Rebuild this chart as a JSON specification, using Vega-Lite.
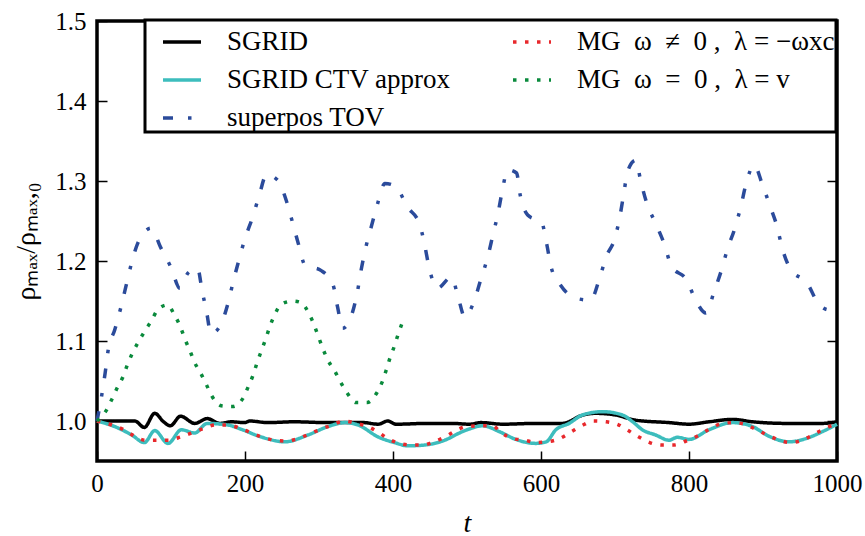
{
  "$schema": "https://vega.github.io/schema/vega-lite/v6.json",
  "width": 740,
  "height": 440,
  "autosize": {"type": "none"},
  "padding": {"left": 97, "top": 21, "right": 28, "bottom": 75},
  "background": "white",
  "config": {
    "view": {"stroke": "black", "strokeWidth": 3.5},
    "legend": {"strokeWidth": 3},
    "axis": {
      "labelFont": "Liberation Serif",
      "labelFontSize": 25,
      "labelColor": "black",
      "labelFlush": false,
      "tickColor": "black",
      "tickWidth": 1.5,
      "tickSize": -10,
      "domain": false,
      "grid": false,
      "titleFont": "Liberation Serif",
      "titleFontSize": 28,
      "titleColor": "black",
      "titleFontWeight": "normal"
    }
  },
  "data": {
    "values": [
      {"s": "SGRID", "t": 0, "v": 1.0}, {"s": "SGRID", "t": 20, "v": 1.0}, {"s": "SGRID", "t": 40, "v": 1.0}, {"s": "SGRID", "t": 51, "v": 1.0},
      {"s": "SGRID", "t": 64, "v": 0.992}, {"s": "SGRID", "t": 78, "v": 1.0096}, {"s": "SGRID", "t": 90, "v": 0.999}, {"s": "SGRID", "t": 99, "v": 0.994},
      {"s": "SGRID", "t": 113, "v": 1.006}, {"s": "SGRID", "t": 132, "v": 0.997}, {"s": "SGRID", "t": 149, "v": 1.003}, {"s": "SGRID", "t": 166, "v": 0.997},
      {"s": "SGRID", "t": 182, "v": 0.999}, {"s": "SGRID", "t": 200, "v": 0.998}, {"s": "SGRID", "t": 206, "v": 1.0}, {"s": "SGRID", "t": 231, "v": 0.998},
      {"s": "SGRID", "t": 266, "v": 0.999}, {"s": "SGRID", "t": 312, "v": 0.998}, {"s": "SGRID", "t": 339, "v": 0.998}, {"s": "SGRID", "t": 360, "v": 0.998},
      {"s": "SGRID", "t": 380, "v": 0.996}, {"s": "SGRID", "t": 393, "v": 1.0}, {"s": "SGRID", "t": 404, "v": 0.996}, {"s": "SGRID", "t": 447, "v": 0.997},
      {"s": "SGRID", "t": 480, "v": 0.997}, {"s": "SGRID", "t": 503, "v": 0.996}, {"s": "SGRID", "t": 519, "v": 0.998}, {"s": "SGRID", "t": 548, "v": 0.996},
      {"s": "SGRID", "t": 593, "v": 0.997}, {"s": "SGRID", "t": 629, "v": 0.997}, {"s": "SGRID", "t": 640, "v": 1.0}, {"s": "SGRID", "t": 652, "v": 1.006},
      {"s": "SGRID", "t": 674, "v": 1.0096}, {"s": "SGRID", "t": 701, "v": 1.0075}, {"s": "SGRID", "t": 728, "v": 1.001}, {"s": "SGRID", "t": 773, "v": 0.998},
      {"s": "SGRID", "t": 800, "v": 0.996}, {"s": "SGRID", "t": 827, "v": 0.999}, {"s": "SGRID", "t": 859, "v": 1.002}, {"s": "SGRID", "t": 886, "v": 0.999},
      {"s": "SGRID", "t": 931, "v": 0.997}, {"s": "SGRID", "t": 980, "v": 0.997}, {"s": "SGRID", "t": 994, "v": 0.998}, {"s": "SGRID", "t": 1000, "v": 0.999},

      {"s": "SGRID CTV approx", "t": 0, "v": 1.0}, {"s": "SGRID CTV approx", "t": 4, "v": 0.999}, {"s": "SGRID CTV approx", "t": 24, "v": 0.993},
      {"s": "SGRID CTV approx", "t": 47, "v": 0.9825}, {"s": "SGRID CTV approx", "t": 64, "v": 0.973}, {"s": "SGRID CTV approx", "t": 78, "v": 0.988},
      {"s": "SGRID CTV approx", "t": 96, "v": 0.972}, {"s": "SGRID CTV approx", "t": 114, "v": 0.989}, {"s": "SGRID CTV approx", "t": 132, "v": 0.985},
      {"s": "SGRID CTV approx", "t": 149, "v": 0.997}, {"s": "SGRID CTV approx", "t": 177, "v": 0.995}, {"s": "SGRID CTV approx", "t": 195, "v": 0.9896},
      {"s": "SGRID CTV approx", "t": 222, "v": 0.98}, {"s": "SGRID CTV approx", "t": 254, "v": 0.974}, {"s": "SGRID CTV approx", "t": 285, "v": 0.9825},
      {"s": "SGRID CTV approx", "t": 312, "v": 0.993}, {"s": "SGRID CTV approx", "t": 335, "v": 0.998}, {"s": "SGRID CTV approx", "t": 353, "v": 0.995},
      {"s": "SGRID CTV approx", "t": 380, "v": 0.98}, {"s": "SGRID CTV approx", "t": 402, "v": 0.973}, {"s": "SGRID CTV approx", "t": 420, "v": 0.969},
      {"s": "SGRID CTV approx", "t": 443, "v": 0.97}, {"s": "SGRID CTV approx", "t": 470, "v": 0.976}, {"s": "SGRID CTV approx", "t": 492, "v": 0.986},
      {"s": "SGRID CTV approx", "t": 503, "v": 0.99}, {"s": "SGRID CTV approx", "t": 521, "v": 0.994}, {"s": "SGRID CTV approx", "t": 544, "v": 0.9866},
      {"s": "SGRID CTV approx", "t": 566, "v": 0.977}, {"s": "SGRID CTV approx", "t": 593, "v": 0.972}, {"s": "SGRID CTV approx", "t": 607, "v": 0.974},
      {"s": "SGRID CTV approx", "t": 620, "v": 0.989}, {"s": "SGRID CTV approx", "t": 638, "v": 0.997}, {"s": "SGRID CTV approx", "t": 656, "v": 1.0075},
      {"s": "SGRID CTV approx", "t": 683, "v": 1.0117}, {"s": "SGRID CTV approx", "t": 710, "v": 1.0075}, {"s": "SGRID CTV approx", "t": 724, "v": 0.999},
      {"s": "SGRID CTV approx", "t": 737, "v": 0.989}, {"s": "SGRID CTV approx", "t": 755, "v": 0.9825}, {"s": "SGRID CTV approx", "t": 773, "v": 0.976},
      {"s": "SGRID CTV approx", "t": 784, "v": 0.9796}, {"s": "SGRID CTV approx", "t": 800, "v": 0.977}, {"s": "SGRID CTV approx", "t": 827, "v": 0.989},
      {"s": "SGRID CTV approx", "t": 859, "v": 0.998}, {"s": "SGRID CTV approx", "t": 886, "v": 0.993}, {"s": "SGRID CTV approx", "t": 908, "v": 0.981},
      {"s": "SGRID CTV approx", "t": 935, "v": 0.974}, {"s": "SGRID CTV approx", "t": 958, "v": 0.978}, {"s": "SGRID CTV approx", "t": 980, "v": 0.9866},
      {"s": "SGRID CTV approx", "t": 998, "v": 0.995}, {"s": "SGRID CTV approx", "t": 1000, "v": 0.996},

      {"s": "superpos TOV", "t": 0, "v": 1.0}, {"s": "superpos TOV", "t": 6, "v": 1.03}, {"s": "superpos TOV", "t": 11, "v": 1.06}, {"s": "superpos TOV", "t": 15, "v": 1.088},
      {"s": "superpos TOV", "t": 24, "v": 1.114}, {"s": "superpos TOV", "t": 32, "v": 1.141}, {"s": "superpos TOV", "t": 39, "v": 1.168}, {"s": "superpos TOV", "t": 46, "v": 1.195},
      {"s": "superpos TOV", "t": 55, "v": 1.222}, {"s": "superpos TOV", "t": 73, "v": 1.241}, {"s": "superpos TOV", "t": 86, "v": 1.217}, {"s": "superpos TOV", "t": 100, "v": 1.192},
      {"s": "superpos TOV", "t": 112, "v": 1.166}, {"s": "superpos TOV", "t": 123, "v": 1.185}, {"s": "superpos TOV", "t": 136, "v": 1.191}, {"s": "superpos TOV", "t": 142, "v": 1.163},
      {"s": "superpos TOV", "t": 148, "v": 1.137}, {"s": "superpos TOV", "t": 154, "v": 1.109}, {"s": "superpos TOV", "t": 168, "v": 1.122}, {"s": "superpos TOV", "t": 177, "v": 1.147},
      {"s": "superpos TOV", "t": 184, "v": 1.174}, {"s": "superpos TOV", "t": 192, "v": 1.202}, {"s": "superpos TOV", "t": 200, "v": 1.228}, {"s": "superpos TOV", "t": 210, "v": 1.254},
      {"s": "superpos TOV", "t": 219, "v": 1.281}, {"s": "superpos TOV", "t": 229, "v": 1.308}, {"s": "superpos TOV", "t": 244, "v": 1.301}, {"s": "superpos TOV", "t": 256, "v": 1.275},
      {"s": "superpos TOV", "t": 264, "v": 1.249}, {"s": "superpos TOV", "t": 272, "v": 1.222}, {"s": "superpos TOV", "t": 281, "v": 1.195}, {"s": "superpos TOV", "t": 303, "v": 1.188},
      {"s": "superpos TOV", "t": 319, "v": 1.17}, {"s": "superpos TOV", "t": 325, "v": 1.143}, {"s": "superpos TOV", "t": 332, "v": 1.116}, {"s": "superpos TOV", "t": 345, "v": 1.135},
      {"s": "superpos TOV", "t": 352, "v": 1.162}, {"s": "superpos TOV", "t": 357, "v": 1.189}, {"s": "superpos TOV", "t": 363, "v": 1.216}, {"s": "superpos TOV", "t": 371, "v": 1.244},
      {"s": "superpos TOV", "t": 379, "v": 1.271}, {"s": "superpos TOV", "t": 389, "v": 1.297}, {"s": "superpos TOV", "t": 404, "v": 1.293}, {"s": "superpos TOV", "t": 419, "v": 1.268},
      {"s": "superpos TOV", "t": 436, "v": 1.246}, {"s": "superpos TOV", "t": 443, "v": 1.219}, {"s": "superpos TOV", "t": 449, "v": 1.191}, {"s": "superpos TOV", "t": 460, "v": 1.166},
      {"s": "superpos TOV", "t": 479, "v": 1.18}, {"s": "superpos TOV", "t": 488, "v": 1.155}, {"s": "superpos TOV", "t": 497, "v": 1.13}, {"s": "superpos TOV", "t": 510, "v": 1.151},
      {"s": "superpos TOV", "t": 519, "v": 1.178}, {"s": "superpos TOV", "t": 528, "v": 1.205}, {"s": "superpos TOV", "t": 535, "v": 1.2325}, {"s": "superpos TOV", "t": 542, "v": 1.26},
      {"s": "superpos TOV", "t": 547.5, "v": 1.287}, {"s": "superpos TOV", "t": 555, "v": 1.314}, {"s": "superpos TOV", "t": 567, "v": 1.31}, {"s": "superpos TOV", "t": 572, "v": 1.282},
      {"s": "superpos TOV", "t": 582, "v": 1.2575}, {"s": "superpos TOV", "t": 601, "v": 1.248}, {"s": "superpos TOV", "t": 608, "v": 1.22}, {"s": "superpos TOV", "t": 613.5, "v": 1.193},
      {"s": "superpos TOV", "t": 627, "v": 1.169}, {"s": "superpos TOV", "t": 649, "v": 1.153}, {"s": "superpos TOV", "t": 667, "v": 1.151}, {"s": "superpos TOV", "t": 679, "v": 1.178},
      {"s": "superpos TOV", "t": 688, "v": 1.205}, {"s": "superpos TOV", "t": 700, "v": 1.229}, {"s": "superpos TOV", "t": 707, "v": 1.2575}, {"s": "superpos TOV", "t": 712, "v": 1.285},
      {"s": "superpos TOV", "t": 717, "v": 1.312}, {"s": "superpos TOV", "t": 728, "v": 1.326}, {"s": "superpos TOV", "t": 735, "v": 1.299}, {"s": "superpos TOV", "t": 743, "v": 1.272},
      {"s": "superpos TOV", "t": 755, "v": 1.247}, {"s": "superpos TOV", "t": 767, "v": 1.22}, {"s": "superpos TOV", "t": 776, "v": 1.194}, {"s": "superpos TOV", "t": 797, "v": 1.176},
      {"s": "superpos TOV", "t": 809, "v": 1.151}, {"s": "superpos TOV", "t": 823, "v": 1.135}, {"s": "superpos TOV", "t": 834, "v": 1.162}, {"s": "superpos TOV", "t": 844, "v": 1.189},
      {"s": "superpos TOV", "t": 852, "v": 1.215}, {"s": "superpos TOV", "t": 862, "v": 1.241}, {"s": "superpos TOV", "t": 870, "v": 1.268}, {"s": "superpos TOV", "t": 877, "v": 1.296},
      {"s": "superpos TOV", "t": 888, "v": 1.32}, {"s": "superpos TOV", "t": 899, "v": 1.296}, {"s": "superpos TOV", "t": 909, "v": 1.27}, {"s": "superpos TOV", "t": 919, "v": 1.243},
      {"s": "superpos TOV", "t": 926, "v": 1.216}, {"s": "superpos TOV", "t": 937, "v": 1.19}, {"s": "superpos TOV", "t": 960, "v": 1.172}, {"s": "superpos TOV", "t": 974, "v": 1.148},
      {"s": "superpos TOV", "t": 989, "v": 1.139}, {"s": "superpos TOV", "t": 1000, "v": 1.15},

      {"s": "MG\u2002ω\u2002≠\u20020 ,\u2002λ = −ωxc", "t": 0, "v": 1.0}, {"s": "MG\u2002ω\u2002≠\u20020 ,\u2002λ = −ωxc", "t": 20, "v": 0.995}, {"s": "MG\u2002ω\u2002≠\u20020 ,\u2002λ = −ωxc", "t": 35, "v": 0.9896},
      {"s": "MG\u2002ω\u2002≠\u20020 ,\u2002λ = −ωxc", "t": 47, "v": 0.983}, {"s": "MG\u2002ω\u2002≠\u20020 ,\u2002λ = −ωxc", "t": 65, "v": 0.976}, {"s": "MG\u2002ω\u2002≠\u20020 ,\u2002λ = −ωxc", "t": 80, "v": 0.976},
      {"s": "MG\u2002ω\u2002≠\u20020 ,\u2002λ = −ωxc", "t": 96, "v": 0.976}, {"s": "MG\u2002ω\u2002≠\u20020 ,\u2002λ = −ωxc", "t": 113, "v": 0.98}, {"s": "MG\u2002ω\u2002≠\u20020 ,\u2002λ = −ωxc", "t": 129, "v": 0.9854},
      {"s": "MG\u2002ω\u2002≠\u20020 ,\u2002λ = −ωxc", "t": 145, "v": 0.991}, {"s": "MG\u2002ω\u2002≠\u20020 ,\u2002λ = −ωxc", "t": 160, "v": 0.995}, {"s": "MG\u2002ω\u2002≠\u20020 ,\u2002λ = −ωxc", "t": 177, "v": 0.995},
      {"s": "MG\u2002ω\u2002≠\u20020 ,\u2002λ = −ωxc", "t": 193, "v": 0.991}, {"s": "MG\u2002ω\u2002≠\u20020 ,\u2002λ = −ωxc", "t": 209, "v": 0.985}, {"s": "MG\u2002ω\u2002≠\u20020 ,\u2002λ = −ωxc", "t": 224, "v": 0.9796},
      {"s": "MG\u2002ω\u2002≠\u20020 ,\u2002λ = −ωxc", "t": 240, "v": 0.976}, {"s": "MG\u2002ω\u2002≠\u20020 ,\u2002λ = −ωxc", "t": 254, "v": 0.975}, {"s": "MG\u2002ω\u2002≠\u20020 ,\u2002λ = −ωxc", "t": 272, "v": 0.978},
      {"s": "MG\u2002ω\u2002≠\u20020 ,\u2002λ = −ωxc", "t": 285, "v": 0.983}, {"s": "MG\u2002ω\u2002≠\u20020 ,\u2002λ = −ωxc", "t": 302, "v": 0.9896}, {"s": "MG\u2002ω\u2002≠\u20020 ,\u2002λ = −ωxc", "t": 318, "v": 0.995},
      {"s": "MG\u2002ω\u2002≠\u20020 ,\u2002λ = −ωxc", "t": 334, "v": 1.0}, {"s": "MG\u2002ω\u2002≠\u20020 ,\u2002λ = −ωxc", "t": 350, "v": 0.997}, {"s": "MG\u2002ω\u2002≠\u20020 ,\u2002λ = −ωxc", "t": 366, "v": 0.993},
      {"s": "MG\u2002ω\u2002≠\u20020 ,\u2002λ = −ωxc", "t": 381, "v": 0.9854}, {"s": "MG\u2002ω\u2002≠\u20020 ,\u2002λ = −ωxc", "t": 395, "v": 0.977}, {"s": "MG\u2002ω\u2002≠\u20020 ,\u2002λ = −ωxc", "t": 409, "v": 0.972},
      {"s": "MG\u2002ω\u2002≠\u20020 ,\u2002λ = −ωxc", "t": 424, "v": 0.97}, {"s": "MG\u2002ω\u2002≠\u20020 ,\u2002λ = −ωxc", "t": 440, "v": 0.97}, {"s": "MG\u2002ω\u2002≠\u20020 ,\u2002λ = −ωxc", "t": 455, "v": 0.974},
      {"s": "MG\u2002ω\u2002≠\u20020 ,\u2002λ = −ωxc", "t": 470, "v": 0.98}, {"s": "MG\u2002ω\u2002≠\u20020 ,\u2002λ = −ωxc", "t": 485, "v": 0.988}, {"s": "MG\u2002ω\u2002≠\u20020 ,\u2002λ = −ωxc", "t": 499, "v": 0.993},
      {"s": "MG\u2002ω\u2002≠\u20020 ,\u2002λ = −ωxc", "t": 519, "v": 0.994}, {"s": "MG\u2002ω\u2002≠\u20020 ,\u2002λ = −ωxc", "t": 535, "v": 0.994}, {"s": "MG\u2002ω\u2002≠\u20020 ,\u2002λ = −ωxc", "t": 544, "v": 0.987},
      {"s": "MG\u2002ω\u2002≠\u20020 ,\u2002λ = −ωxc", "t": 564, "v": 0.9775}, {"s": "MG\u2002ω\u2002≠\u20020 ,\u2002λ = −ωxc", "t": 578, "v": 0.976}, {"s": "MG\u2002ω\u2002≠\u20020 ,\u2002λ = −ωxc", "t": 593, "v": 0.973},
      {"s": "MG\u2002ω\u2002≠\u20020 ,\u2002λ = −ωxc", "t": 609, "v": 0.974}, {"s": "MG\u2002ω\u2002≠\u20020 ,\u2002λ = −ωxc", "t": 625, "v": 0.978}, {"s": "MG\u2002ω\u2002≠\u20020 ,\u2002λ = −ωxc", "t": 641, "v": 0.9866},
      {"s": "MG\u2002ω\u2002≠\u20020 ,\u2002λ = −ωxc", "t": 655, "v": 0.994}, {"s": "MG\u2002ω\u2002≠\u20020 ,\u2002λ = −ωxc", "t": 671, "v": 1.0}, {"s": "MG\u2002ω\u2002≠\u20020 ,\u2002λ = −ωxc", "t": 688, "v": 0.999},
      {"s": "MG\u2002ω\u2002≠\u20020 ,\u2002λ = −ωxc", "t": 703, "v": 0.996}, {"s": "MG\u2002ω\u2002≠\u20020 ,\u2002λ = −ωxc", "t": 718, "v": 0.988}, {"s": "MG\u2002ω\u2002≠\u20020 ,\u2002λ = −ωxc", "t": 733, "v": 0.9796},
      {"s": "MG\u2002ω\u2002≠\u20020 ,\u2002λ = −ωxc", "t": 747, "v": 0.973}, {"s": "MG\u2002ω\u2002≠\u20020 ,\u2002λ = −ωxc", "t": 763, "v": 0.97}, {"s": "MG\u2002ω\u2002≠\u20020 ,\u2002λ = −ωxc", "t": 780, "v": 0.97},
      {"s": "MG\u2002ω\u2002≠\u20020 ,\u2002λ = −ωxc", "t": 796, "v": 0.975}, {"s": "MG\u2002ω\u2002≠\u20020 ,\u2002λ = −ωxc", "t": 811, "v": 0.981}, {"s": "MG\u2002ω\u2002≠\u20020 ,\u2002λ = −ωxc", "t": 826, "v": 0.989},
      {"s": "MG\u2002ω\u2002≠\u20020 ,\u2002λ = −ωxc", "t": 842, "v": 0.996}, {"s": "MG\u2002ω\u2002≠\u20020 ,\u2002λ = −ωxc", "t": 859, "v": 0.998}, {"s": "MG\u2002ω\u2002≠\u20020 ,\u2002λ = −ωxc", "t": 875, "v": 0.996},
      {"s": "MG\u2002ω\u2002≠\u20020 ,\u2002λ = −ωxc", "t": 890, "v": 0.9896}, {"s": "MG\u2002ω\u2002≠\u20020 ,\u2002λ = −ωxc", "t": 906, "v": 0.9825}, {"s": "MG\u2002ω\u2002≠\u20020 ,\u2002λ = −ωxc", "t": 922, "v": 0.976},
      {"s": "MG\u2002ω\u2002≠\u20020 ,\u2002λ = −ωxc", "t": 938, "v": 0.973}, {"s": "MG\u2002ω\u2002≠\u20020 ,\u2002λ = −ωxc", "t": 953, "v": 0.976}, {"s": "MG\u2002ω\u2002≠\u20020 ,\u2002λ = −ωxc", "t": 971, "v": 0.9846},
      {"s": "MG\u2002ω\u2002≠\u20020 ,\u2002λ = −ωxc", "t": 986, "v": 0.9916}, {"s": "MG\u2002ω\u2002≠\u20020 ,\u2002λ = −ωxc", "t": 1000, "v": 0.997},

      {"s": "MG\u2002ω\u2002=\u20020 ,\u2002λ = v", "t": 0, "v": 1.0}, {"s": "MG\u2002ω\u2002=\u20020 ,\u2002λ = v", "t": 13, "v": 1.014}, {"s": "MG\u2002ω\u2002=\u20020 ,\u2002λ = v", "t": 20, "v": 1.027},
      {"s": "MG\u2002ω\u2002=\u20020 ,\u2002λ = v", "t": 27, "v": 1.041}, {"s": "MG\u2002ω\u2002=\u20020 ,\u2002λ = v", "t": 35, "v": 1.055}, {"s": "MG\u2002ω\u2002=\u20020 ,\u2002λ = v", "t": 41, "v": 1.07},
      {"s": "MG\u2002ω\u2002=\u20020 ,\u2002λ = v", "t": 48, "v": 1.085}, {"s": "MG\u2002ω\u2002=\u20020 ,\u2002λ = v", "t": 56, "v": 1.099}, {"s": "MG\u2002ω\u2002=\u20020 ,\u2002λ = v", "t": 65, "v": 1.113},
      {"s": "MG\u2002ω\u2002=\u20020 ,\u2002λ = v", "t": 74, "v": 1.126}, {"s": "MG\u2002ω\u2002=\u20020 ,\u2002λ = v", "t": 82, "v": 1.139}, {"s": "MG\u2002ω\u2002=\u20020 ,\u2002λ = v", "t": 95, "v": 1.145},
      {"s": "MG\u2002ω\u2002=\u20020 ,\u2002λ = v", "t": 105, "v": 1.132}, {"s": "MG\u2002ω\u2002=\u20020 ,\u2002λ = v", "t": 113, "v": 1.117}, {"s": "MG\u2002ω\u2002=\u20020 ,\u2002λ = v", "t": 119, "v": 1.102},
      {"s": "MG\u2002ω\u2002=\u20020 ,\u2002λ = v", "t": 125.5, "v": 1.088}, {"s": "MG\u2002ω\u2002=\u20020 ,\u2002λ = v", "t": 132, "v": 1.073}, {"s": "MG\u2002ω\u2002=\u20020 ,\u2002λ = v", "t": 140, "v": 1.06},
      {"s": "MG\u2002ω\u2002=\u20020 ,\u2002λ = v", "t": 148, "v": 1.045}, {"s": "MG\u2002ω\u2002=\u20020 ,\u2002λ = v", "t": 156, "v": 1.03}, {"s": "MG\u2002ω\u2002=\u20020 ,\u2002λ = v", "t": 168, "v": 1.019},
      {"s": "MG\u2002ω\u2002=\u20020 ,\u2002λ = v", "t": 183, "v": 1.018}, {"s": "MG\u2002ω\u2002=\u20020 ,\u2002λ = v", "t": 197, "v": 1.028}, {"s": "MG\u2002ω\u2002=\u20020 ,\u2002λ = v", "t": 204, "v": 1.042},
      {"s": "MG\u2002ω\u2002=\u20020 ,\u2002λ = v", "t": 211, "v": 1.0575}, {"s": "MG\u2002ω\u2002=\u20020 ,\u2002λ = v", "t": 216, "v": 1.072}, {"s": "MG\u2002ω\u2002=\u20020 ,\u2002λ = v", "t": 222, "v": 1.0875},
      {"s": "MG\u2002ω\u2002=\u20020 ,\u2002λ = v", "t": 228, "v": 1.1025}, {"s": "MG\u2002ω\u2002=\u20020 ,\u2002λ = v", "t": 233.5, "v": 1.118}, {"s": "MG\u2002ω\u2002=\u20020 ,\u2002λ = v", "t": 240, "v": 1.1325},
      {"s": "MG\u2002ω\u2002=\u20020 ,\u2002λ = v", "t": 249, "v": 1.146}, {"s": "MG\u2002ω\u2002=\u20020 ,\u2002λ = v", "t": 265, "v": 1.15}, {"s": "MG\u2002ω\u2002=\u20020 ,\u2002λ = v", "t": 276, "v": 1.148},
      {"s": "MG\u2002ω\u2002=\u20020 ,\u2002λ = v", "t": 286, "v": 1.135}, {"s": "MG\u2002ω\u2002=\u20020 ,\u2002λ = v", "t": 293, "v": 1.121}, {"s": "MG\u2002ω\u2002=\u20020 ,\u2002λ = v", "t": 299, "v": 1.106},
      {"s": "MG\u2002ω\u2002=\u20020 ,\u2002λ = v", "t": 305, "v": 1.091}, {"s": "MG\u2002ω\u2002=\u20020 ,\u2002λ = v", "t": 312, "v": 1.076}, {"s": "MG\u2002ω\u2002=\u20020 ,\u2002λ = v", "t": 321, "v": 1.063},
      {"s": "MG\u2002ω\u2002=\u20020 ,\u2002λ = v", "t": 329, "v": 1.049}, {"s": "MG\u2002ω\u2002=\u20020 ,\u2002λ = v", "t": 338, "v": 1.035}, {"s": "MG\u2002ω\u2002=\u20020 ,\u2002λ = v", "t": 350, "v": 1.023},
      {"s": "MG\u2002ω\u2002=\u20020 ,\u2002λ = v", "t": 365, "v": 1.023}, {"s": "MG\u2002ω\u2002=\u20020 ,\u2002λ = v", "t": 378, "v": 1.035}, {"s": "MG\u2002ω\u2002=\u20020 ,\u2002λ = v", "t": 385, "v": 1.048},
      {"s": "MG\u2002ω\u2002=\u20020 ,\u2002λ = v", "t": 391, "v": 1.064}, {"s": "MG\u2002ω\u2002=\u20020 ,\u2002λ = v", "t": 396, "v": 1.079}, {"s": "MG\u2002ω\u2002=\u20020 ,\u2002λ = v", "t": 402, "v": 1.094},
      {"s": "MG\u2002ω\u2002=\u20020 ,\u2002λ = v", "t": 407.5, "v": 1.11}, {"s": "MG\u2002ω\u2002=\u20020 ,\u2002λ = v", "t": 413, "v": 1.124}
    ]
  },
  "encoding": {
    "x": {"field": "t", "type": "quantitative", "scale": {"domain": [0, 1000], "nice": false}},
    "y": {"field": "v", "type": "quantitative", "scale": {"domain": [0.95, 1.5], "nice": false, "zero": false}},
    "color": {
      "field": "s", "type": "nominal",
      "scale": {
        "domain": ["SGRID", "SGRID CTV approx", "superpos TOV", "MG\u2002ω\u2002≠\u20020 ,\u2002λ = −ωxc", "MG\u2002ω\u2002=\u20020 ,\u2002λ = v"],
        "range": ["#000000", "#3dbdbd", "#2b4b9b", "#e8282c", "#0a8a3c"]
      },
      "legend": {
        "title": null, "orient": "none", "legendX": 48, "legendY": -1, "columns": 2,
        "symbolType": "stroke", "symbolSize": 1444, "symbolStrokeWidth": 3.5, "symbolOffset": 15,
        "labelFont": "Liberation Serif", "labelFontSize": 27, "labelColor": "black", "labelLimit": 400,
        "labelOffset": 24, "columnPadding": 45, "rowPadding": 4, "padding": 1,
        "strokeColor": "black", "fillColor": "white"
      }
    },
    "strokeDash": {
      "field": "s", "type": "nominal",
      "scale": {
        "domain": ["SGRID", "SGRID CTV approx", "superpos TOV", "MG\u2002ω\u2002≠\u20020 ,\u2002λ = −ωxc", "MG\u2002ω\u2002=\u20020 ,\u2002λ = v"],
        "range": [[1, 0], [1, 0], [10, 15, 3.5, 15], [3.5, 8.5], [3.5, 8.5]]
      },
      "legend": {
        "title": null, "orient": "none", "legendX": 48, "legendY": -1, "columns": 2,
        "symbolType": "stroke", "symbolSize": 1444, "symbolStrokeWidth": 3.5, "symbolOffset": 15,
        "labelFont": "Liberation Serif", "labelFontSize": 27, "labelColor": "black", "labelLimit": 400,
        "labelOffset": 24, "columnPadding": 45, "rowPadding": 4, "padding": 1,
        "strokeColor": "black", "fillColor": "white"
      }
    }
  },
  "layer": [
    {
      "transform": [{"filter": {"field": "s", "oneOf": ["SGRID", "SGRID CTV approx", "superpos TOV"]}}],
      "mark": {"type": "line", "strokeWidth": 3.5, "interpolate": "monotone"},
      "encoding": {
        "x": {"field": "t", "type": "quantitative", "axis": {"orient": "bottom", "values": [0, 200, 400, 600, 800, 1000], "format": "d", "title": "t", "titleFontStyle": "italic", "labelPadding": 20, "titlePadding": 13}},
        "y": {"field": "v", "type": "quantitative", "axis": {"orient": "left", "values": [1.0, 1.1, 1.2, 1.3, 1.4, 1.5], "format": ".1f", "title": "ρₘₐₓ/ρₘₐₓ,₀", "labelPadding": 21, "titlePadding": 14}}
      }
    },
    {
      "transform": [{"filter": {"field": "s", "oneOf": ["MG\u2002ω\u2002≠\u20020 ,\u2002λ = −ωxc", "MG\u2002ω\u2002=\u20020 ,\u2002λ = v"]}}],
      "mark": {"type": "line", "strokeWidth": 3.5, "interpolate": "monotone"},
      "encoding": {
        "x": {"field": "t", "type": "quantitative", "axis": {"orient": "top", "values": [200, 400, 600, 800], "labels": false, "title": null}},
        "y": {"field": "v", "type": "quantitative", "axis": {"orient": "right", "values": [1.0, 1.1, 1.2, 1.3, 1.4], "labels": false, "title": null}}
      }
    }
  ],
  "resolve": {"axis": {"x": "independent", "y": "independent"}}
}
